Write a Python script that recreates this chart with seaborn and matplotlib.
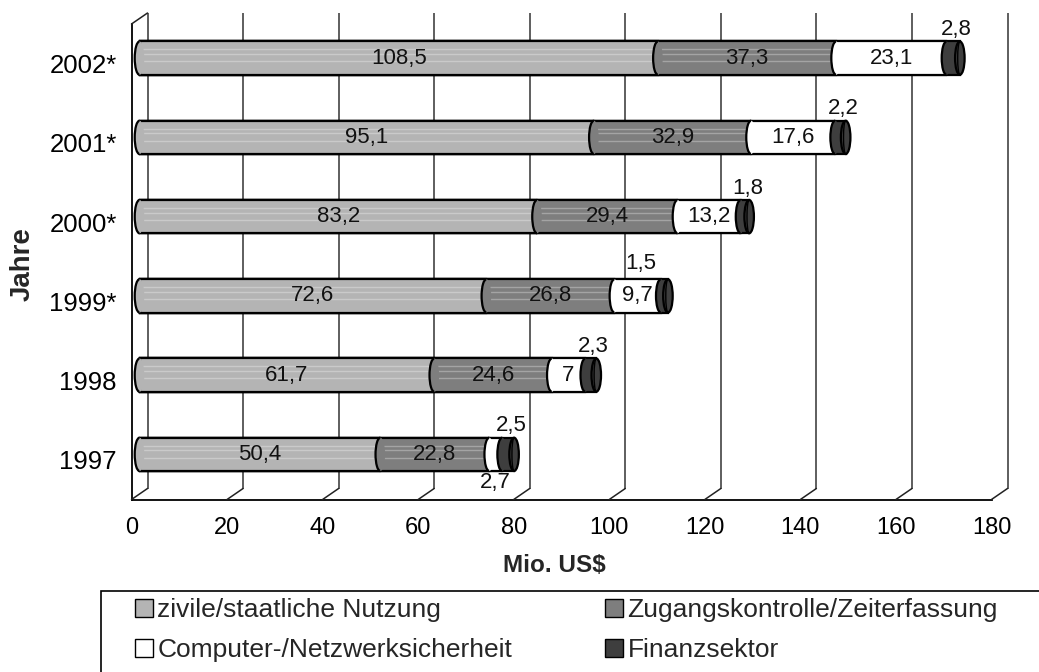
import matplotlib
matplotlib.use("Agg")
import matplotlib.pyplot as plt
import seaborn as sns
import numpy as np
from matplotlib.transforms import ScaledTranslation
from matplotlib.patches import Ellipse, Arc, Rectangle, Patch

# ---------------- data ----------------
years = ["2002*", "2001*", "2000*", "1999*", "1998", "1997"]
zivil = [108.5, 95.1, 83.2, 72.6, 61.7, 50.4]
zugang = [37.3, 32.9, 29.4, 26.8, 24.6, 22.8]
computer = [23.1, 17.6, 13.2, 9.7, 7.0, 2.7]
finanz = [2.8, 2.2, 1.8, 1.5, 2.3, 2.5]
series_names = ["zivile/staatliche Nutzung", "Zugangskontrolle/Zeiterfassung",
                "Computer-/Netzwerksicherheit", "Finanzsektor"]
x_ticks = [0, 20, 40, 60, 80, 100, 120, 140, 160, 180]

# ---------------- style ----------------
colors = ["#B4B4B4", "#7E7E7E", "#FFFFFF", "#3E3E3E"]
sns.set_style("white")
plt.rcParams["font.family"] = ["Liberation Sans", "DejaVu Sans"]

W, H = 1039, 672
fig = plt.figure(figsize=(W / 100, H / 100), dpi=100)
ax = fig.add_axes([131.5 / W, 1 - 499.5 / H, 860 / W, 475.5 / H])

series = [zivil, zugang, computer, finanz]
arr = np.array(series)            # 4 x 6
cum = np.cumsum(arr, axis=0)      # cumulative ends
starts = cum - arr

bar_off = ScaledTranslation(8 / 100, 5.5 / 100, fig.dpi_scale_trans)
back_off = ScaledTranslation(16 / 100, 11 / 100, fig.dpi_scale_trans)
trans_bar = ax.transData + bar_off

# stacked bars: overlay cumulative totals, largest first
bw = 0.42
for k in [3, 2, 1, 0]:
    n_before = len(ax.patches)
    sns.barplot(x=cum[k], y=years, orient="h", color=colors[k], saturation=1,
                width=bw, edgecolor="black", linewidth=1.6, ax=ax, zorder=2)
    for p in ax.patches[n_before:]:
        p.set_transform(trans_bar)

ax.set_xlim(0, 180)
ax.set_ylim(5.5, -0.5)

# subtle cylinder highlight stripes
for i in range(len(years)):
    for k in (0, 1):
        ax.hlines([i - 0.11, i - 0.05, i + 0.04], starts[k, i] + 0.5, cum[k, i] - 0.5,
                  colors="white", alpha=0.3, linewidth=1.0, transform=trans_bar, zorder=2.5)

# cylinder caps
ew = 2.0
for i in range(len(years)):
    for k in range(4):
        x0 = starts[k, i]
        ax.add_patch(Ellipse((x0, i), ew, bw, facecolor=colors[k], edgecolor="none",
                             transform=trans_bar, zorder=3))
        ax.add_patch(Arc((x0, i), ew, bw, theta1=90, theta2=270, edgecolor="black",
                         linewidth=1.6, transform=trans_bar, zorder=3.1))
    xe = cum[3, i]
    ax.add_patch(Ellipse((xe, i), ew, bw, facecolor=colors[3], edgecolor="black",
                         linewidth=1.6, transform=trans_bar, zorder=3.2))
    ax.add_patch(Arc((xe, i), ew * 0.45, bw, theta1=90, theta2=270, edgecolor="black",
                     linewidth=1.0, transform=trans_bar, zorder=3.3))

# value labels
def fmt(v):
    return f"{v:g}".replace(".", ",")

special = {(3, 3): (-27, -4), (5, 2): (0, 0)}   # (row, series): pixel nudges
for i in range(len(years)):
    for k in range(4):
        v = arr[k, i]
        xc = starts[k, i] + v / 2
        yc = i
        dx, dy = special.get((i, k), (0, 0))
        if k == 3:
            yc = i - 0.36
            dx += 3
        elif i == 5 and k == 2:
            yc = i + 0.36
        off = ScaledTranslation(dx / 100, -dy / 100, fig.dpi_scale_trans)
        ax.text(xc, yc, fmt(v), transform=trans_bar + off, ha="center", va="center",
                fontsize=16, color="#111111", zorder=5)

# back wall gridlines and floor diagonals
ax.vlines(x_ticks, 0, 1, transform=ax.get_xaxis_transform() + back_off,
          colors="#333333", linewidth=1.1, clip_on=False, zorder=0.5)
for xt in x_ticks:
    ax.annotate("", xy=(xt, 0), xycoords=ax.get_xaxis_transform(),
                xytext=(16, 11), textcoords="offset pixels",
                arrowprops=dict(arrowstyle="-", color="#222222", lw=1.1,
                                shrinkA=0, shrinkB=0), annotation_clip=False)
ax.annotate("", xy=(0, 1), xycoords="axes fraction",
            xytext=(16, 11), textcoords="offset pixels",
            arrowprops=dict(arrowstyle="-", color="#222222", lw=1.1,
                            shrinkA=0, shrinkB=0), annotation_clip=False)

# spines and ticks
for s in ["top", "right"]:
    ax.spines[s].set_visible(False)
for s in ["left", "bottom"]:
    ax.spines[s].set_color("black")
    ax.spines[s].set_linewidth(1.3)
ax.grid(False)
ax.set_xticks(x_ticks)
ax.set_xticklabels([str(t) for t in x_ticks], fontsize=17)
ax.tick_params(axis="x", direction="out", length=6.5, width=1.2, pad=6, colors="black")
ax.set_yticks(range(len(years)))
ax.set_yticklabels(years, fontsize=18.5)
ax.set_yticks(np.arange(-0.5, len(years)), minor=True)
ax.tick_params(axis="y", which="major", length=0, pad=10.5, colors="black")
ax.tick_params(axis="y", which="minor", direction="out", length=5.8, width=1.2, color="black")

ax.set_xlabel("Mio. US$", fontsize=17.5, fontweight="bold")
ax.xaxis.label.set_va("center")
ax.xaxis.set_label_coords((554 - 131.5) / 860, (499.5 - 565) / 475.5)
ax.set_ylabel("Jahre", fontsize=20, fontweight="bold")
ax.yaxis.label.set_va("center")
ax.yaxis.label.set_ha("center")
ax.yaxis.set_label_coords((23 - 131.5) / 860, (499.5 - 264) / 475.5)

# legend (two columns, rows interleaved as in the original)
handles = [Patch(facecolor=colors[k], edgecolor="black", linewidth=1.0) for k in range(4)]
leg_kw = dict(loc="upper left", frameon=False, fontsize=19, handlelength=0.7,
              handleheight=0.65, handletextpad=0.15, labelspacing=0.61,
              borderpad=0, borderaxespad=0)
leg1 = fig.legend([handles[0], handles[2]], [series_names[0], series_names[2]],
                  bbox_to_anchor=(135 / W, 1 - 598 / H), **leg_kw)
leg2 = fig.legend([handles[1], handles[3]], [series_names[1], series_names[3]],
                  bbox_to_anchor=(605 / W, 1 - 598 / H), **leg_kw)
fig.patches.append(Rectangle((101 / W, -0.1), 1.0, (H - 591) / H + 0.1,
                             transform=fig.transFigure, fill=False,
                             edgecolor="black", linewidth=1.2))

fig.savefig("out.png", dpi=100)
